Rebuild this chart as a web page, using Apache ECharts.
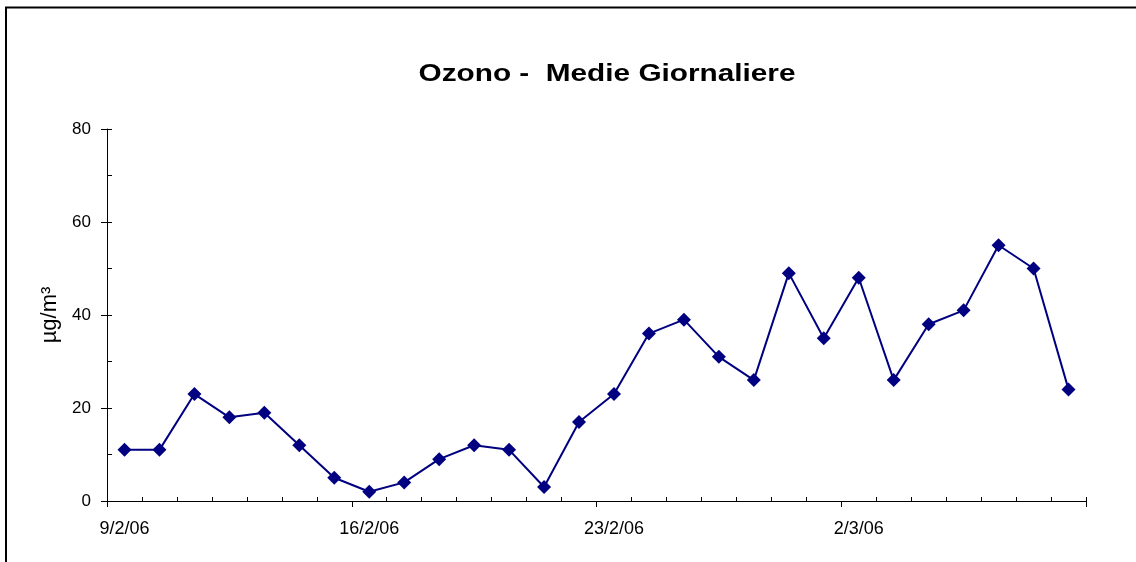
<!DOCTYPE html>
<html>
<head>
<meta charset="utf-8">
<script src="https://cdn.jsdelivr.net/npm/echarts@6/dist/echarts.min.js"></script>
<style>
	html, body { margin: 0; padding: 0; background: #fff; }
	#chart { width: 1136px; height: 562px; }
</style>
</head>
<body>
<div id="chart"></div>
<script>
	// giorni di misura (9/2/06 - 8/3/06)
	const days = [
		'9/2/06', '10/2/06', '11/2/06', '12/2/06', '13/2/06', '14/2/06', '15/2/06',
		'16/2/06', '17/2/06', '18/2/06', '19/2/06', '20/2/06', '21/2/06', '22/2/06',
		'23/2/06', '24/2/06', '25/2/06', '26/2/06', '27/2/06', '28/2/06', '1/3/06',
		'2/3/06', '3/3/06', '4/3/06', '5/3/06', '6/3/06', '7/3/06', '8/3/06'
	]
	// medie giornaliere ozono, µg/m3
	const ozono = [
		11, 11, 23, 18, 19, 12, 5,
		2, 4, 9, 12, 11, 3, 17,
		23, 36, 39, 31, 26, 49, 35,
		48, 26, 38, 41, 55, 50, 24
	]
	const yTicks = { min: 0, max: 80, step: 20, minorStep: 10 }

	const blue = '#000080'
	const font = 'Liberation Sans, Arial, sans-serif'

	const chart = echarts.init(document.getElementById('chart'))
	chart.setOption({
		animation: false,
		backgroundColor: '#fff',
		graphic: [{
			type: 'rect',
			shape: { x: 6, y: 7.5, width: 1300, height: 700 },
			style: { fill: 'none', stroke: '#000', lineWidth: 2 },
			silent: true
		}, {
			// titolo (allargato come nell'originale)
			type: 'text',
			x: 607,
			y: 74,
			scaleX: 1.24,
			silent: true,
			style: {
				text: 'Ozono -  Medie Giornaliere',
				font: 'bold 24px ' + font,
				fill: '#000',
				align: 'center',
				verticalAlign: 'middle'
			}
		}],
		grid: {
			left: 107,
			right: 50,
			top: 129,
			bottom: 61
		},
		xAxis: [{
			type: 'category',
			data: days,
			boundaryGap: true,
			axisLine: { show: true, lineStyle: { color: '#000', width: 1 } },
			axisTick: {
				show: true,
				interval: 6,
				length: 6,
				lineStyle: { color: '#000' }
			},
			axisLabel: {
				interval: 6,
				margin: 19,
				fontFamily: font,
				fontSize: 18,
				color: '#000'
			},
			splitLine: { show: false }
		}, {
			// tacche giornaliere interne
			type: 'category',
			data: days,
			position: 'bottom',
			boundaryGap: true,
			axisLine: { show: false },
			axisTick: {
				show: true,
				inside: true,
				length: 4,
				interval: function (i) { return i % 7 !== 0 },
				lineStyle: { color: '#000' }
			},
			axisLabel: { show: false },
			splitLine: { show: false }
		}],
		yAxis: [{
			type: 'value',
			min: yTicks.min,
			max: yTicks.max,
			interval: yTicks.step,
			name: 'µg/m³',
			nameLocation: 'middle',
			nameGap: 46,
			nameTextStyle: {
				fontFamily: font,
				fontSize: 22,
				color: '#000'
			},
			axisLine: { show: true, lineStyle: { color: '#000', width: 1 } },
			axisTick: { show: true, length: 6, lineStyle: { color: '#000' } },
			axisLabel: {
				margin: 16,
				fontFamily: font,
				fontSize: 17,
				color: '#000'
			},
			splitLine: { show: false }
		}, {
			// tacche interne ogni 10
			type: 'value',
			min: yTicks.min,
			max: yTicks.max,
			interval: yTicks.minorStep,
			position: 'left',
			axisLine: { show: false },
			axisTick: { show: true, inside: true, length: 5, lineStyle: { color: '#000' } },
			axisLabel: { show: false },
			splitLine: { show: false }
		}],
		series: [{
			name: 'Ozono',
			type: 'line',
			data: ozono,
			symbol: 'diamond',
			symbolSize: 14,
			lineStyle: { color: blue, width: 2 },
			itemStyle: { color: blue }
		}]
	})
</script>
</body>
</html>
